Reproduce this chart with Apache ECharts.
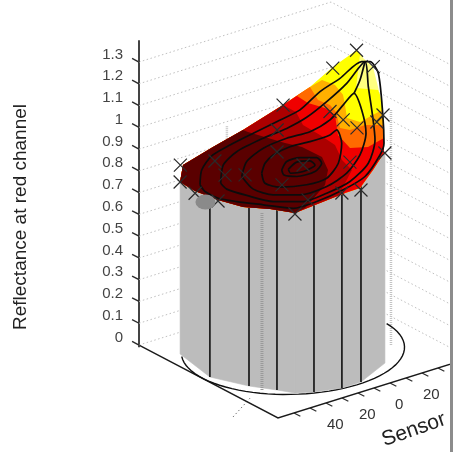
<!DOCTYPE html>
<html><head><meta charset="utf-8">
<style>
html,body{margin:0;padding:0;background:#fff;overflow:hidden}
#chart{position:absolute;left:0;top:0;width:450px;height:452px;filter:blur(0.55px)}
#edge{position:absolute;left:450px;top:0;width:3px;height:452px;background:#8c8c8c}
</style>
<script src="https://cdn.jsdelivr.net/npm/echarts@6/dist/echarts.min.js"></script>
</head><body><div id="chart"></div><div id="edge"></div>
<script>
// ---------- data ----------
const yTickLabels = ['0','0.1','0.2','0.3','0.4','0.5','0.6','0.7','0.8','0.9','1','1.1','1.2','1.3'];
const yTickValues = [0,0.1,0.2,0.3,0.4,0.5,0.6,0.7,0.8,0.9,1,1.1,1.2,1.3];
const sensorTickValues = [50,40,30,20,10,0,-10,-20,-30,-40,-50];
const sensorLabelValues = [40,20,0,-20];
// sensors on the rim of the cylinder
const rimS = [50.6,56.1,47.5,39.5,34.7,26.5,12.6,0.6,-22.9];
const rimT = [-37.5,-4.2,17.7,30.8,39.7,44.8,49.7,49.6,37.8];
const rimZ = [0.79,0.836,0.831,0.84,0.84,0.868,0.905,0.905,0.965];
const rimHasLine = [0,1,1,1,0,1,1,1,0];
// all sensor readings (x marks)
const sensorS = [-47,-43,-34.6,-38,-22.9,0.6,12.6,34.7,46.8,53.9,50.6,45,-22.8,-43,19.8,31.6,26.3,-4.6,6.3,21.3,0.9,-26.8,-27.8,-29.2,-10.3,15.9];
const sensorT = [-20,0,20,10,37.8,49.6,49.7,39.7,-10,-20,-37.5,-45,-50,-35,-50,-25,-15,-30,-15,10,0,-15,-5,5,25,25];
const sensorZ = [1.22,1.21,1.063,0.995,0.965,0.882,0.896,0.822,0.771,0.795,0.79,0.834,0.94,1.105,0.781,0.813,0.83,0.923,0.889,0.842,0.859,0.999,0.986,0.974,0.916,0.803];
const greySensor = [59,-4,0.811];
// dotted hidden posts [s,t,z]
const backPosts = [[12.3,-50,0.928],[-38.7,21.2,1.08]];
const frontPosts = [[45.4,26,0.818]];
const floorDiagonal = [[76.9,44.5],[54.9,29.7]];
const circleS = 3.4, circleT = -5.3, circleR = 56.5;
const circleFrom = 177, circleTo = -34;
// surface outline and colour-band edges, in [horizontal position, reflectance]
const surfaceOutline = [[218,1.355],[224,1.318],[234,1.277],[241,1.149],[244,1.057],[245,0.965],[245,0.882],[234,0.804],[221,0.721],[206,0.698],[181,0.652],[156,0.606],[131,0.625],[104,0.634],[79,0.666],[56,0.707],[41,0.749],[44,0.827],[74,0.91],[104,0.988],[144,1.103],[171,1.185],[194,1.277]];
const bandYellow = [[221,1.332],[217,1.181],[239,1.171]];
const bandAmber = [[183,1.217],[196,1.194],[204,1.149],[206,1.103],[208,1.043],[221,1.024],[243,1.08]];
const bandOrange = [[171,1.185],[179,1.126],[191,1.103],[197,1.07],[201,0.997],[211,0.988],[226,1.011],[245,1.011]];
const bandRed = [[158,1.144],[169,1.112],[186,1.089],[196,1.057],[199,0.965],[211,0.905],[229,0.91],[245,0.951]];
const bandDeep = [[144,1.103],[157,1.07],[164,1.011],[181,0.965],[196,0.919],[203,0.85],[213,0.804],[201,0.7]];
const bandDark = [[109,0.979],[129,0.951],[146,0.928],[163,0.91],[183,0.864],[189,0.804],[186,0.735],[173,0.666],[166,0.629]];
// contour lines
const contourA = [[61,.736],[62.7,.804],[72.7,.869],[91,.919],[114.3,.973],[137.7,1.026],[161,1.08],[181,1.164],[201,1.225],[222.7,1.302],[231,1.302],[239.3,1.248],[243.7,1.064],[245,.927],[241,.873],[226,.774],[204.3,.713],[177.7,.659],[154.3,.628],[124.3,.644],[97.7,.659],[79.3,.674],[66,.705],[61,.736]];
const contourB = [[81.7,.743],[84.3,.827],[97.7,.888],[124.3,.95],[147.7,.995],[167.7,1.046],[187.7,1.118],[207.7,1.202],[226,1.302],[229.3,1.187],[233.7,1.049],[236,.942],[229.3,.835],[211,.751],[187.7,.697],[164.3,.659],[134.3,.659],[107.7,.687],[87.7,.716],[81.7,.743]];
const contourC = [[102.7,.774],[107.7,.843],[124.3,.904],[147.7,.95],[171,.98],[191,1.034],[204.3,1.103],[215,1.156],[222.7,1.08],[227,.973],[221,.873],[207.7,.789],[187.7,.728],[161,.69],[134.3,.69],[114.3,.716],[102.7,.774]];
const contourSpur = [[226,1.302],[221,1.217],[215,1.156]];
const contourD = [[122.7,.789],[126,.835],[134.3,.873],[151,.911],[171,.934],[191,.965],[197.7,.988],[202.7,.927],[199.3,.835],[187.7,.766],[167.7,.736],[141,.725],[126,.743],[122.7,.789]];
const contourE = [[142.7,.804],[147.7,.843],[161,.861],[177.7,.861],[182.7,.835],[176,.797],[157.7,.774],[145,.781],[142.7,.804]];
const contourF = [[149.3,.807],[157.7,.84],[171,.846],[176,.827],[164.3,.797],[151.7,.789],[149.3,.807]];

// ---------- view of the 3-D box, expressed in the 2-D axes' units ----------
function project(s,t,z){ return [165.5-1.6*s+1.158*t, z-(6.5+0.5*s+0.608*t)/217.7]; }

const tickCol='#2a2a2a';
function segs(name,list,style,z){
  return {type:'custom',name,coordinateSystem:'cartesian2d',silent:true,z,animation:false,
    data:list.map(q=>q[0]),
    renderItem:(p,api)=>({type:'polyline',shape:{points:list[p.dataIndex].map(q=>api.coord(q))},
      style:Object.assign({fill:'none',stroke:'#000',lineWidth:1},style)})};
}
function polys(name,list,colors,z,stroke){
  return {type:'custom',name,coordinateSystem:'cartesian2d',silent:true,z,animation:false,
    data:list.map(q=>q[0]),
    renderItem:(p,api)=>{const c=colors[p.dataIndex];return {type:'polygon',shape:{points:list[p.dataIndex].map(q=>api.coord(q))},
      style:{fill:c,stroke:stroke?c:'none',lineWidth:stroke?0.6:0}}}};
}
function nearestOutline(q){
  let best=0,d=1e9;
  surfaceOutline.forEach((o,i)=>{const e=Math.hypot(o[0]-q[0],(o[1]-q[1])*217.7);if(e<d){d=e;best=i;}});
  return best;
}
function bandPolygon(cut){
  const n=surfaceOutline.length,out=cut.slice();
  let i=nearestOutline(cut[cut.length-1]);const e=nearestOutline(cut[0]);
  for(let g=0;g<n;g++){out.push(surfaceOutline[i]);if(i===e)break;i=(i+1)%n;}
  return out;
}
const series=[];
// walls
const wallLines=[];
yTickValues.forEach(z=>{
  wallLines.push([project(60,-60,z),project(-60,-60,z),project(-60,60,z)]);
});
series.push(segs('walls',wallLines,{stroke:'#c0c0c0',lineDash:[1.5,2.5],lineWidth:1},1));
series.push(segs('backPosts',backPosts.map(b=>[project(b[0],b[1],0),project(b[0],b[1],b[2])]),{stroke:'#c4c4c4',lineDash:[1,1],lineWidth:2.5},2));
series.push(segs('floorDiagonal',[floorDiagonal.map(b=>project(b[0],b[1],0))],{stroke:'#777',lineDash:[1.5,2.5]},2));
// floor box edges and ticks
series.push(segs('floor',[[project(60,-60,0),project(60,60,0),project(-60,60,0)]],{stroke:'#1a1a1a',lineWidth:1.4},3));
series.push(segs('sensorTicks',sensorTickValues.map(s=>[project(s,60,0),project(s,65.5,0)]),{stroke:tickCol,lineWidth:1.2},3));
series.push(segs('zTicks',yTickValues.map(z=>[project(60,-60,z),project(60,-66,z)]),{stroke:tickCol,lineWidth:1.4},3));
series.push(segs('axisTop',[[[0,1.3],[0,1.4]],[[0,0],[0,-0.01]]],{stroke:'#444',lineWidth:2},3));
// circle on the floor
const arc=[];
for(let a=circleFrom;a>=circleTo;a-=4){const r=a*Math.PI/180;arc.push(project(circleS+circleR*Math.cos(r),circleT+circleR*Math.sin(r),0));}
series.push(segs('circle',[arc],{stroke:'#111',lineWidth:1.4},4));
// cylinder faces
const faces=[];
for(let i=0;i<rimS.length-1;i++){
  faces.push([project(rimS[i],rimT[i],0),project(rimS[i+1],rimT[i+1],0),project(rimS[i+1],rimT[i+1],rimZ[i+1]),project(rimS[i],rimT[i],rimZ[i])]);
}
series.push(polys('cylinder',faces,faces.map(()=>'#bcbcbc'),5,true));
series.push(segs('frontPosts',frontPosts.map(b=>[project(b[0],b[1],0),project(b[0],b[1],b[2])]),{stroke:'#9a9a9a',lineDash:[1,1],lineWidth:3},6));
const posts=[];
rimS.forEach((s,i)=>{if(rimHasLine[i])posts.push([project(s,rimT[i],0),project(s,rimT[i],rimZ[i])]);});
series.push(segs('posts',posts,{stroke:'#222',lineWidth:1.8},6));
// surface
const bandList=[surfaceOutline,bandPolygon(bandYellow),bandPolygon(bandAmber),bandPolygon(bandOrange),bandPolygon(bandRed),bandPolygon(bandDeep),bandPolygon(bandDark)];
const bandColors=['#ffff80','#ffff00','#ffb000','#ff6a00','#f00000','#ac0000','#5a0000'];
series.push(polys('surface',bandList,bandColors,7,false));
[contourA,contourB,contourC,contourSpur,contourD,contourE,contourF].forEach((c,i)=>{
  series.push({type:'line',name:'contour'+i,data:c,smooth:0.25,symbol:'none',silent:true,animation:false,clip:false,z:8,
    lineStyle:{color:'#0c0c0c',width:1.7}});
});
// sensor marks
series.push({type:'scatter',name:'sensors',data:sensorS.map((s,i)=>project(s,sensorT[i],sensorZ[i])),
  symbol:'path://M0 0L10 10M10 0L0 10',symbolSize:13,silent:true,animation:false,clip:false,z:9,
  itemStyle:{color:'none',borderColor:'#2a2a2a',borderWidth:1.2,opacity:1}});
series.push({type:'scatter',name:'grey',data:[project(greySensor[0],greySensor[1],greySensor[2])],
  symbol:'circle',symbolSize:[20,15],silent:true,animation:false,clip:false,z:10,itemStyle:{color:'#8a8a8a',opacity:1}});
// sensor tick labels
series.push({type:'custom',name:'sensorLabels',coordinateSystem:'cartesian2d',silent:true,z:3,animation:false,
  data:sensorLabelValues.map(s=>project(s+3,86,0)),
  renderItem:(p,api)=>{const c=api.coord([api.value(0),api.value(1)]);
    return {type:'text',x:c[0],y:c[1],style:{text:String(Math.abs(sensorLabelValues[p.dataIndex])),fill:'#333',
      font:'15px "Liberation Sans"',align:'center',verticalAlign:'middle'}};}});

const chart=echarts.init(document.getElementById('chart'));
chart.setOption({
  animation:false,
  backgroundColor:'#fff',
  grid:{left:139,top:62,width:311,height:283,containLabel:false},
  xAxis:{type:'value',min:0,max:311,show:false},
  yAxis:{type:'value',min:0,max:1.3,interval:0.1,
    axisLine:{show:true,onZero:false,lineStyle:{color:'#444',width:2}},
    axisTick:{show:false},splitLine:{show:false},
    axisLabel:{margin:16,color:'#444',fontFamily:'Liberation Sans',fontSize:15,verticalAlign:'bottom',
      formatter:v=>yTickLabels[Math.round(v*10)]}},
  graphic:[
    {type:'text',x:379,y:431,rotation:0.34,z:20,silent:true,
     style:{text:'Sensor',fill:'#222',font:'21px "Liberation Sans"'}},
    {type:'text',x:11,y:330,rotation:Math.PI/2,z:20,silent:true,
     style:{text:'Reflectance at red channel',fill:'#222',font:'19px "Liberation Sans"'}}
  ],
  series
});
</script></body></html>
